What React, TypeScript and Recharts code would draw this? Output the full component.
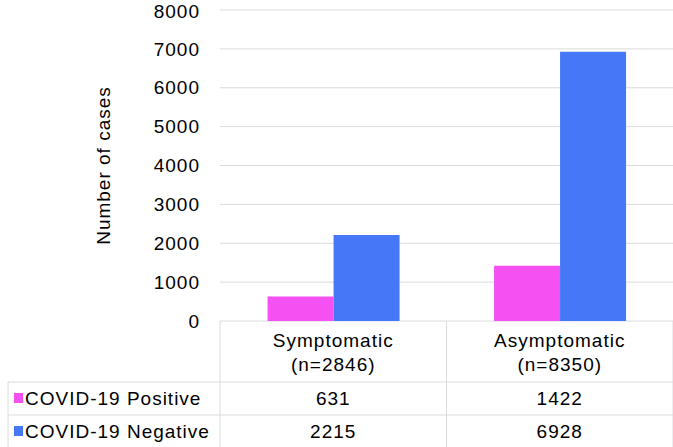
import { Bar, BarChart, CartesianGrid, XAxis, YAxis } from "recharts";

const categories = ["Symptomatic", "Asymptomatic"];
const sampleSizes = [2846, 8350];
const positiveCases = [631, 1422];
const negativeCases = [2215, 6928];
const yTicks = [0, 1000, 2000, 3000, 4000, 5000, 6000, 7000, 8000];

const series = [
  { key: "positive", name: "COVID-19 Positive", color: "#f450f2", values: positiveCases },
  { key: "negative", name: "COVID-19 Negative", color: "#4677f7", values: negativeCases },
];

const data = categories.map((name, i) => ({
  name,
  n: sampleSizes[i],
  positive: positiveCases[i],
  negative: negativeCases[i],
}));

const FONT = "'Liberation Sans', Arial, sans-serif";
const LINE = "#d8dcdf";
const PLOT_LEFT = 220;
const CHART_W = 673;
const textStyle = { fontSize: 19, fill: "#000", fontFamily: FONT, letterSpacing: 1 };

function TableTick(props: any) {
  const { x, y, index } = props;
  const half = (CHART_W - PLOT_LEFT) / categories.length / 2;
  const row1 = y + 61;
  const row2 = y + 94;
  const bottom = y + 126;
  const cat = categories[index];
  return (
    <g style={textStyle}>
      {index === 0 && (
        <g>
          <line x1={x - half} x2={x - half} y1={y} y2={bottom} stroke={LINE} />
          <line x1={8} x2={CHART_W} y1={row1} y2={row1} stroke={LINE} />
          <line x1={8} x2={CHART_W} y1={row2} y2={row2} stroke={LINE} />
          <line x1={8} x2={8} y1={row1} y2={bottom} stroke={LINE} />
          {series.map((s, si) => (
            <g key={s.key}>
              <rect x={14} y={row1 + 11 + si * 33} width={9} height={10} fill={s.color} />
              <text x={25} y={row1 + 23 + si * 33} textAnchor="start">
                {s.name}
              </text>
            </g>
          ))}
        </g>
      )}
      <line x1={x + half} x2={x + half} y1={y} y2={bottom} stroke={LINE} />
      <text x={x} y={y + 26} textAnchor="middle">
        {cat}
      </text>
      <text x={x} y={y + 50} textAnchor="middle">
        (n={sampleSizes[index]})
      </text>
      {series.map((s, si) => (
        <text key={s.key} x={x} y={row1 + 23 + si * 33} textAnchor="middle">
          {s.values[index]}
        </text>
      ))}
    </g>
  );
}

export default function App() {
  return (
    <div style={{ position: "fixed", left: 0, top: 0, width: 673, height: 447, background: "#fff" }}>
      <BarChart
        width={673}
        height={447}
        data={data}
        margin={{ top: 10, right: 0, left: 0, bottom: 0 }}
        barCategoryGap="21%"
        barGap={0}
        style={{ fontFamily: FONT }}
      >
        <CartesianGrid vertical={false} stroke={LINE} />
        <XAxis
          dataKey="name"
          height={126}
          axisLine={false}
          tickLine={false}
          tickSize={0}
          tickMargin={0}
          interval={0}
          tick={<TableTick />}
        />
        <YAxis
          width={PLOT_LEFT}
          domain={[0, 8000]}
          ticks={yTicks}
          axisLine={false}
          tickLine={false}
          tickSize={0}
          tickMargin={20}
          tick={textStyle}
          label={{
            value: "Number of cases",
            angle: -90,
            position: "center",
            dx: -7,
            style: textStyle,
          }}
        />
        {series.map((s) => (
          <Bar key={s.key} dataKey={s.key} name={s.name} fill={s.color} isAnimationActive={false} />
        ))}
      </BarChart>
    </div>
  );
}
